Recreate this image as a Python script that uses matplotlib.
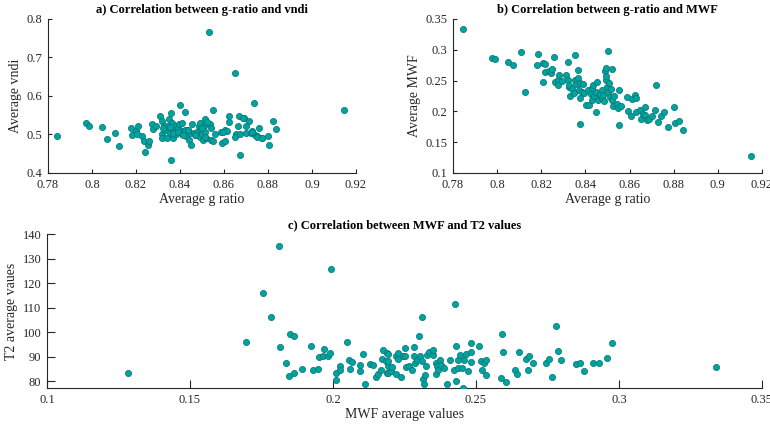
import numpy as np
import matplotlib
matplotlib.use("Agg")
import matplotlib.pyplot as plt
from matplotlib.ticker import FuncFormatter

# panel a: g ratio vs vndi
a_g = [0.7842, 0.7974, 0.7985, 0.8044, 0.8068, 0.8105, 0.8122, 0.8176, 0.8181, 0.8202,
       0.8208, 0.8205, 0.8228, 0.8237, 0.8241, 0.8255, 0.8261, 0.8275, 0.8278, 0.8293,
       0.8307, 0.8317, 0.8317, 0.8319, 0.8326, 0.8334, 0.8346, 0.8351, 0.8354, 0.8358,
       0.8361, 0.8364, 0.8367, 0.8370, 0.8376, 0.8381, 0.8390, 0.8395, 0.8399, 0.8407,
       0.8411, 0.8411, 0.8423, 0.8425, 0.8429, 0.8437, 0.8439, 0.8445, 0.8452, 0.8455,
       0.8466, 0.8475, 0.8481, 0.8486, 0.8490, 0.8492, 0.8496, 0.8501, 0.8504, 0.8508,
       0.8514, 0.8516, 0.8520, 0.8534, 0.8536, 0.8542, 0.8543, 0.8548, 0.8552, 0.8560,
       0.8587, 0.8590, 0.8604, 0.8605, 0.8615, 0.8624, 0.8625, 0.8651, 0.8654, 0.8651,
       0.8663, 0.8668, 0.8671, 0.8674, 0.8689, 0.8698, 0.8699, 0.8712, 0.8721, 0.8728,
       0.8737, 0.8740, 0.8751, 0.8757, 0.8775, 0.8798, 0.8806, 0.8821, 0.8837, 0.9145,
       0.8324, 0.8355, 0.8370, 0.8392, 0.8438, 0.8468, 0.8499, 0.8514, 0.8340, 0.8415,
       0.8521, 0.8597, 0.8688, 0.8726, 0.8749, 0.8771]
a_vndi = [0.495, 0.530, 0.521, 0.520, 0.489, 0.505, 0.471, 0.518, 0.499, 0.510,
          0.521, 0.502, 0.497, 0.483, 0.454, 0.473, 0.484, 0.526, 0.514, 0.523,
          0.549, 0.535, 0.500, 0.490, 0.523, 0.511, 0.521, 0.540, 0.504, 0.433,
          0.556, 0.530, 0.510, 0.492, 0.521, 0.502, 0.518, 0.528, 0.577, 0.508,
          0.530, 0.500, 0.558, 0.512, 0.497, 0.512, 0.486, 0.504, 0.473, 0.528,
          0.505, 0.499, 0.508, 0.521, 0.531, 0.493, 0.512, 0.501, 0.486, 0.521,
          0.540, 0.507, 0.491, 0.767, 0.526, 0.516, 0.486, 0.563, 0.482, 0.501,
          0.506, 0.478, 0.482, 0.511, 0.508, 0.547, 0.532, 0.659, 0.502, 0.493,
          0.522, 0.548, 0.447, 0.500, 0.544, 0.521, 0.505, 0.536, 0.505, 0.508,
          0.581, 0.499, 0.496, 0.517, 0.491, 0.497, 0.473, 0.536, 0.513, 0.563,
          0.516, 0.520, 0.503, 0.507, 0.512, 0.499, 0.516, 0.494, 0.490, 0.499,
          0.533, 0.507, 0.542, 0.507, 0.494, 0.490]

# panel b: g ratio vs MWF
b_g = [0.7847, 0.7977, 0.7991, 0.8047, 0.8074, 0.8107, 0.8125, 0.8184, 0.8180, 0.8207,
       0.8206, 0.8218, 0.8215, 0.8233, 0.8242, 0.8247, 0.8259, 0.8263, 0.8275, 0.8281,
       0.8278, 0.8292, 0.8312, 0.8321, 0.8319, 0.8327, 0.8330, 0.8325, 0.8337, 0.8346,
       0.8351, 0.8354, 0.8358, 0.8366, 0.8368, 0.8371, 0.8375, 0.8377, 0.8377, 0.8383,
       0.8390, 0.8395, 0.8401, 0.8410, 0.8416, 0.8425, 0.8428, 0.8431, 0.8436, 0.8440,
       0.8446, 0.8448, 0.8454, 0.8458, 0.8466, 0.8474, 0.8477, 0.8481, 0.8486, 0.8487,
       0.8492, 0.8495, 0.8493, 0.8501, 0.8499, 0.8504, 0.8507, 0.8511, 0.8514, 0.8519,
       0.8522, 0.8525, 0.8531, 0.8542, 0.8546, 0.8552, 0.8554, 0.8561, 0.8589, 0.8593,
       0.8607, 0.8610, 0.8625, 0.8629, 0.8629, 0.8648, 0.8652, 0.8661, 0.8669, 0.8670,
       0.8678, 0.8690, 0.8701, 0.8716, 0.8721, 0.8731, 0.8743, 0.8758, 0.8776, 0.8802,
       0.8807, 0.8825, 0.8841, 0.9150]
b_mwf = [0.3343, 0.2861, 0.2851, 0.2797, 0.2748, 0.2959, 0.2310, 0.2932, 0.2753, 0.2786,
         0.2483, 0.2764, 0.2640, 0.2656, 0.2623, 0.2683, 0.2883, 0.2472, 0.2515, 0.2591,
         0.2434, 0.2494, 0.2585, 0.2797, 0.2515, 0.2396, 0.2255, 0.2429, 0.2364, 0.2299,
         0.2910, 0.2515, 0.2439, 0.2542, 0.2678, 0.2353, 0.2461, 0.1801, 0.2223, 0.2320,
         0.2450, 0.2299, 0.2104, 0.2342, 0.2104, 0.2282, 0.2380, 0.2190, 0.2434, 0.2245,
         0.2315, 0.1990, 0.2472, 0.2190, 0.2272, 0.2342, 0.2212, 0.2272, 0.2163, 0.2650,
         0.2515, 0.2580, 0.2705, 0.2975, 0.2396, 0.2310, 0.2461, 0.2228, 0.2364, 0.2190,
         0.2688, 0.2093, 0.2245, 0.2125, 0.2055, 0.2353, 0.1779, 0.2093, 0.2234, 0.2006,
         0.1920, 0.2207, 0.2266, 0.2212, 0.1985, 0.2028, 0.1877, 0.1963, 0.2066, 0.1947,
         0.1866, 0.1882, 0.1920, 0.2028, 0.2434, 0.1833, 0.1931, 0.1985, 0.1752, 0.2066,
         0.1812, 0.1844, 0.1693, 0.1281]

# panel c: MWF vs T2
c_mwf = [0.1284, 0.1696, 0.1754, 0.1784, 0.1810, 0.1816, 0.1837, 0.1846, 0.1851, 0.1865,
         0.1865, 0.1890, 0.1922, 0.1931, 0.1949, 0.1951, 0.1965, 0.1969, 0.1981, 0.1988,
         0.1993, 0.2009, 0.2009, 0.2023, 0.2026, 0.2048, 0.2057, 0.2061, 0.2066, 0.2094,
         0.2096, 0.2105, 0.2113, 0.2131, 0.2140, 0.2149, 0.2159, 0.2169, 0.2171, 0.2175,
         0.2186, 0.2189, 0.2190, 0.2192,
         0.2191, 0.2193, 0.2193, 0.2203, 0.2206, 0.2219, 0.2221, 0.2226, 0.2229, 0.2238,
         0.2244, 0.2252, 0.2252, 0.2256, 0.2266, 0.2275, 0.2282, 0.2283, 0.2287, 0.2295,
         0.2302, 0.2305, 0.2310, 0.2312, 0.2314, 0.2319, 0.2322, 0.2325, 0.2327, 0.2337,
         0.2349, 0.2351, 0.2359, 0.2359, 0.2364, 0.2368, 0.2374, 0.2378, 0.2387, 0.2399,
         0.2408, 0.2422, 0.2427, 0.2429, 0.2430, 0.2436, 0.2436, 0.2443, 0.2452, 0.2455,
         0.2459, 0.2465, 0.2473, 0.2481, 0.2483, 0.2483, 0.2510, 0.2517, 0.2522, 0.2529,
         0.2536, 0.2535, 0.2589, 0.2592, 0.2594, 0.2604, 0.2636, 0.2643, 0.2649, 0.2674,
         0.2681, 0.2687, 0.2698, 0.2746, 0.2754, 0.2765, 0.2781, 0.2788, 0.2796, 0.2850,
         0.2862, 0.2879, 0.2909, 0.2930, 0.2957, 0.2974, 0.3338]
c_t2 = [83.5, 96.1, 115.9, 106.3, 135.1, 94.0, 87.6, 82.0, 99.2, 98.4,
        83.4, 84.9, 94.6, 84.5, 84.9, 90.0, 90.4, 93.3, 90.2, 91.5,
        125.6, 83.4, 80.7, 86.1, 84.7, 96.1, 88.5, 85.0, 87.9, 86.5,
        84.3, 91.0, 78.9, 87.2, 86.5, 81.8, 82.8, 84.7, 89.2, 92.9,
        88.1, 91.5, 83.4, 86.1,
        91.2, 88.1, 83.4, 84.1, 85.8, 83.2, 90.2, 91.5, 89.2, 81.8,
        90.2, 90.2, 93.4, 85.8, 86.1, 84.5, 94.0, 90.2, 87.4, 88.8,
        98.6, 90.2, 106.1, 88.1, 80.9, 78.8, 82.4, 86.1, 90.8, 91.8,
        90.8, 92.9, 87.4, 83.1, 86.1, 84.7, 88.8, 86.8, 85.4, 78.8,
        88.5, 84.5, 111.6, 94.5, 80.1, 88.8, 85.3, 90.7, 85.3, 77.2,
        88.5, 91.0, 84.2, 95.6, 92.1, 88.0, 94.5, 88.3, 84.7, 87.4,
        88.5, 82.7, 81.2, 99.1, 92.1, 79.7, 84.6, 82.8, 91.9, 89.1,
        84.6, 90.4, 87.6, 87.6, 89.3, 81.8, 102.6, 92.5, 88.7, 86.9,
        87.4, 84.3, 87.4, 87.3, 89.6, 95.6, 85.8]

plt.rcParams['font.family'] = ['Liberation Serif', 'DejaVu Serif']

face = '#00a39f'
edge = '#007370'
axcol = '#262626'
fmt = FuncFormatter(lambda v, p: '%g' % round(v, 4))


def style(ax, ticklen):
    ax.spines['top'].set_visible(False)
    ax.spines['right'].set_visible(False)
    for s in ('left', 'bottom'):
        ax.spines[s].set_color(axcol)
        ax.spines[s].set_linewidth(0.8)
    ax.tick_params(direction='in', length=ticklen, width=0.8, colors=axcol,
                   labelsize=9, pad=4)
    ax.xaxis.set_major_formatter(fmt)
    ax.yaxis.set_major_formatter(fmt)


fig = plt.figure(figsize=(7.7, 4.26), dpi=100)

# a)
ax1 = fig.add_axes([0.0623, 0.5939, 0.400, 0.3615])
ax1.scatter(a_g, a_vndi, s=20, c=face, edgecolors=edge, linewidths=0.5, zorder=3)
ax1.set_xlim(0.78, 0.92)
ax1.set_ylim(0.4, 0.8)
ax1.set_xticks(np.arange(0.78, 0.921, 0.02))
ax1.set_yticks(np.arange(0.4, 0.81, 0.1))
style(ax1, 3)
ax1.set_title('a) Correlation between g-ratio and vndi', fontsize=9, fontweight='bold', pad=4)
ax1.set_xlabel('Average g ratio', fontsize=10, color=axcol, labelpad=2)
ax1.set_ylabel('Average vndi', fontsize=10, color=axcol, labelpad=3)

# b)
ax2 = fig.add_axes([0.5883, 0.5939, 0.4013, 0.3615])
ax2.scatter(b_g, b_mwf, s=20, c=face, edgecolors=edge, linewidths=0.5, zorder=3)
ax2.set_xlim(0.78, 0.92)
ax2.set_ylim(0.1, 0.35)
ax2.set_xticks(np.arange(0.78, 0.921, 0.02))
ax2.set_yticks(np.arange(0.1, 0.351, 0.05))
style(ax2, 3)
ax2.set_title('b) Correlation between g-ratio and MWF', fontsize=9, fontweight='bold', pad=4)
ax2.set_xlabel('Average g ratio', fontsize=10, color=axcol, labelpad=2)
ax2.set_ylabel('Average MWF', fontsize=10, color=axcol, labelpad=3)

# c)
ax3 = fig.add_axes([0.0610, 0.0892, 0.9286, 0.3615])
ax3.scatter(c_mwf, c_t2, s=20, c=face, edgecolors=edge, linewidths=0.5, zorder=3)
ax3.set_xlim(0.1, 0.35)
ax3.set_ylim(77.3, 140)
ax3.set_xticks(np.arange(0.1, 0.351, 0.05))
ax3.set_yticks(np.arange(80, 141, 10))
style(ax3, 5.5)
ax3.set_title('c) Correlation between MWF and T2 values', fontsize=9, fontweight='bold', pad=4)
ax3.set_xlabel('MWF average values', fontsize=10, color=axcol, labelpad=2)
ax3.set_ylabel('T2 average vaues', fontsize=10, color=axcol, labelpad=3)

fig.savefig('out.png', dpi=100)
